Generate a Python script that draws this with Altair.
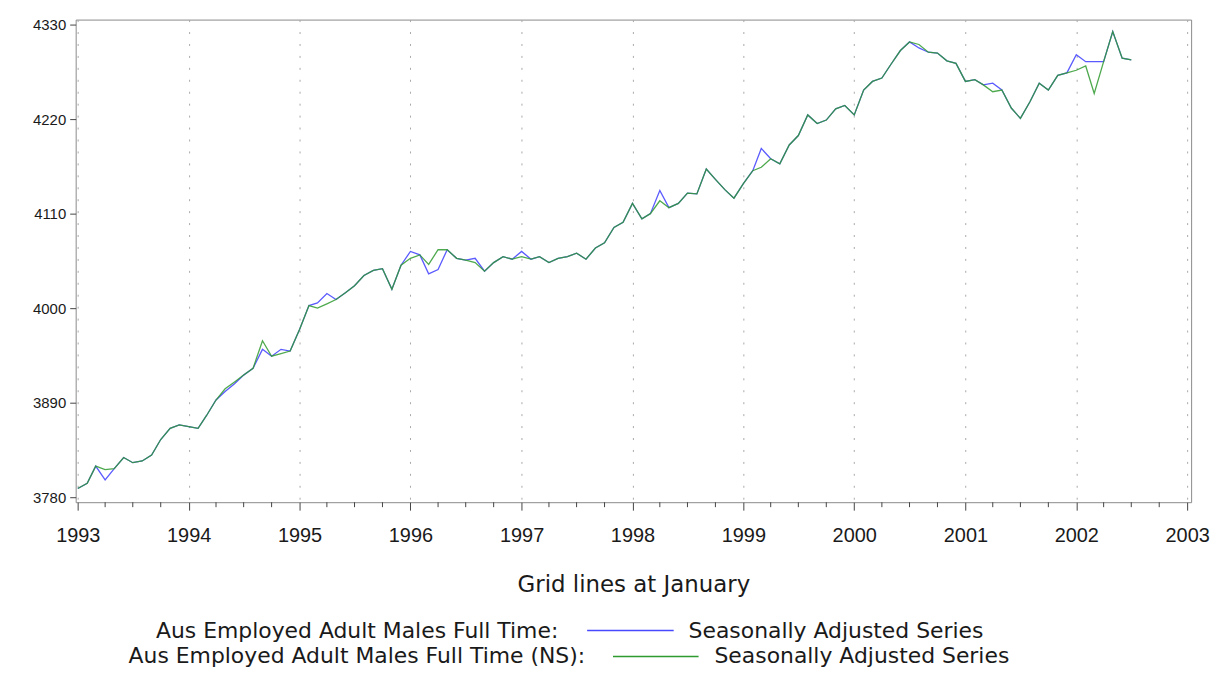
import altair as alt
import pandas as pd

# Monthly observations, Jan 1993 .. Jul 2002
months = pd.date_range("1993-01-01", periods=115, freq="MS").strftime("%Y-%m-%d").tolist()

# Seasonally adjusted series (blue)
sa = [3790, 3796, 3816, 3800, 3813, 3826, 3820, 3822, 3829, 3847, 3860, 3864,
      3862, 3860, 3875, 3893, 3903, 3912, 3922, 3930, 3952, 3944, 3952, 3950,
      3975, 4003, 4006, 4017, 4010, 4018, 4026, 4038, 4044, 4046, 4022, 4050,
      4066, 4062, 4040, 4045, 4068, 4058, 4056, 4058, 4043, 4053, 4060, 4057,
      4066, 4057, 4060, 4053, 4058, 4060, 4064, 4057, 4070, 4076, 4094, 4100,
      4122, 4104, 4110, 4137, 4117, 4122, 4134, 4133, 4162, 4150, 4138, 4128,
      4145, 4160, 4186, 4174, 4168, 4190, 4201, 4225, 4215, 4219, 4232, 4236,
      4225, 4254, 4264, 4268, 4284, 4300, 4310, 4303, 4298, 4297, 4288, 4285,
      4264, 4266, 4260, 4262, 4254, 4233, 4221, 4240, 4262, 4254, 4271, 4274,
      4295, 4287, 4287, 4287, 4322, 4291, 4289]

# Seasonally adjusted series derived from NS data (green)
sa_ns = [3790, 3796, 3816, 3812, 3813, 3826, 3820, 3822, 3829, 3847, 3860, 3864,
         3862, 3860, 3875, 3893, 3906, 3914, 3922, 3930, 3962, 3944, 3947, 3950,
         3975, 4003, 4000, 4005, 4010, 4018, 4026, 4038, 4044, 4046, 4022, 4050,
         4058, 4062, 4051, 4068, 4068, 4058, 4056, 4053, 4043, 4053, 4060, 4057,
         4060, 4057, 4060, 4053, 4058, 4060, 4064, 4057, 4070, 4076, 4094, 4100,
         4122, 4104, 4110, 4125, 4117, 4122, 4134, 4133, 4162, 4150, 4138, 4128,
         4145, 4160, 4164, 4174, 4168, 4190, 4201, 4225, 4215, 4219, 4232, 4236,
         4225, 4254, 4264, 4268, 4284, 4300, 4310, 4307, 4298, 4297, 4288, 4285,
         4264, 4266, 4260, 4252, 4254, 4233, 4221, 4240, 4262, 4254, 4271, 4274,
         4277, 4282, 4250, 4287, 4322, 4291, 4289]

years = list(range(1993, 2004))
quarter_months = [4, 7, 10]
y_ticks = [3780, 3890, 4000, 4110, 4220, 4330]

legend_labels = ["Aus Employed Adult Males Full Time:",
                 "Aus Employed Adult Males Full Time (NS):"]
legend_desc = ["Seasonally Adjusted Series", "Seasonally Adjusted Series"]
title_text = "Grid lines at January"

BLUE = "#4848ff"
GREEN = "#2f9a2f"
TXT = "#1a1a1a"
W, H = 1121, 485

df_sa = pd.DataFrame({"date": months, "value": sa})
df_ns = pd.DataFrame({"date": months, "value": sa_ns})
df_minor = pd.DataFrame({"date": [f"{y}-{m:02d}-01" for y in years[:-1] for m in quarter_months]})

xscale = alt.Scale(type="utc", domain=[alt.DateTime(year=1992, month=12, date=25, utc=True),
                                       alt.DateTime(year=2003, month=1, date=14, utc=True)])
yscale = alt.Scale(domain=[3774, 4336], nice=False, zero=False)

xaxis = alt.Axis(values=[alt.DateTime(year=y, month=1, date=1, utc=True) for y in years],
                 format="%Y", labelFont="Liberation Sans", labelFontSize=20, labelColor=TXT,
                 labelFlush=False, labelPadding=16, tickSize=8, tickColor="#444",
                 domain=False, grid=True, gridColor="#a8a8a8", gridDash=[2, 10],
                 title=title_text, titleFont="DejaVu Sans", titleFontSize=23,
                 titleFontWeight="normal", titleColor=TXT, titlePadding=28)
yaxis = alt.Axis(values=y_ticks, format="d", labelFont="Liberation Sans", labelFontSize=15,
                 labelColor=TXT, tickSize=6, tickColor="#444", domain=False,
                 grid=False, title=None, labelPadding=4)

X = alt.X("date:T", scale=xscale, axis=xaxis)
Y = alt.Y("value:Q", scale=yscale, axis=yaxis)

blue_line = alt.Chart(df_sa).mark_line(color=BLUE, strokeWidth=1.3, opacity=0.9).encode(x=X, y=Y)
green_line = alt.Chart(df_ns).mark_line(color=GREEN, strokeWidth=1.3, opacity=0.85).encode(x=X, y=Y)
minor = alt.Chart(df_minor).mark_rule(color="#444", strokeWidth=1).encode(
    x=X, y=alt.value(H), y2=alt.value(H + 5))

row_y = [614, 640]
label_right = [485, 512]
line_x = [(514, 601), (540, 626)]
desc_left = [616, 642]
colors = [BLUE, GREEN]

legend_layers = []
for i in range(2):
    legend_layers.append(
        alt.Chart(pd.DataFrame({"t": [legend_labels[i]]})).mark_text(
            align="right", baseline="middle", font="DejaVu Sans", fontSize=22, color=TXT
        ).encode(text="t:N", x=alt.value(label_right[i]), y=alt.value(row_y[i])))
    legend_layers.append(
        alt.Chart(pd.DataFrame({"t": [0]})).mark_rule(color=colors[i], strokeWidth=1.6).encode(
            x=alt.value(line_x[i][0]), x2=alt.value(line_x[i][1]), y=alt.value(row_y[i])))
    legend_layers.append(
        alt.Chart(pd.DataFrame({"t": [legend_desc[i]]})).mark_text(
            align="left", baseline="middle", font="DejaVu Sans", fontSize=22, color=TXT
        ).encode(text="t:N", x=alt.value(desc_left[i]), y=alt.value(row_y[i])))

chart = alt.layer(blue_line, green_line, minor, *legend_layers).properties(
    width=W, height=H,
    autosize=alt.AutoSizeParams(type="none"),
    padding={"left": 68, "top": 10, "right": 24, "bottom": 170},
    background="white",
).configure_view(stroke="#8a8a8a", strokeWidth=1)

chart.save("out.html", embed_options={"renderer": "svg", "actions": False})
